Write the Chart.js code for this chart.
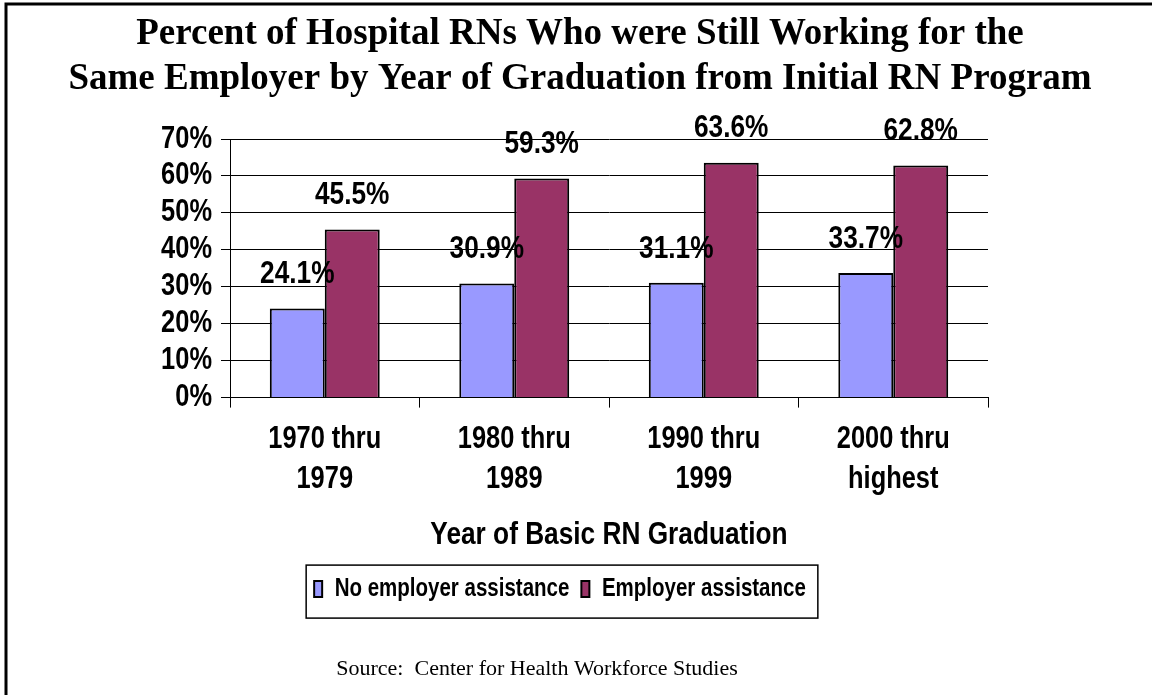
<!DOCTYPE html>
<html>
<head>
<meta charset="utf-8">
<script src="https://cdn.jsdelivr.net/npm/chart.js@4/dist/chart.umd.min.js"></script>
<style>
  html, body { margin: 0; padding: 0; background: #fff; }
  #wrap { width: 1152px; height: 695px; }
</style>
</head>
<body>
<div id="wrap"><canvas id="myChart" width="1152" height="695"></canvas></div>
<script>
const categories = [["1970 thru", "1979"], ["1980 thru", "1989"], ["1990 thru", "1999"], ["2000 thru", "highest"]];
const noAssist = [24.1, 30.9, 31.1, 33.7];
const withAssist = [45.5, 59.3, 63.6, 62.8];
const seriesNames = ["No employer assistance", "Employer assistance"];
const yTicks = [0, 10, 20, 30, 40, 50, 60, 70];
const sourceText = "Source:  Center for Health Workforce Studies";

const SANS = "'Liberation Sans', Arial, sans-serif";
const SERIF = "'Liberation Serif', 'Times New Roman', serif";
const LEGEND_SIZE = 25;

const ctx = document.getElementById("myChart");

/* the original uses a narrow sans (Arial Narrow look). no narrow font here,
   so squeeze Liberation Sans sideways when drawing and measuring */
const SQUEEZE = 0.82;
const c2d = ctx.getContext("2d");
const rawFill = c2d.fillText.bind(c2d);
const rawMeasure = c2d.measureText.bind(c2d);
const isSans = () => c2d.font.indexOf("Liberation Sans") >= 0;
c2d.fillText = function (t, x, y, maxW) {
  if (!isSans()) return maxW === undefined ? rawFill(t, x, y) : rawFill(t, x, y, maxW);
  c2d.save();
  c2d.translate(x, y);
  c2d.scale(SQUEEZE, 1);
  rawFill(t, 0, 0);
  c2d.restore();
};
c2d.measureText = function (t) {
  const m = rawMeasure(t);
  if (!isSans()) return m;
  return {
    width: m.width * SQUEEZE,
    actualBoundingBoxAscent: m.actualBoundingBoxAscent,
    actualBoundingBoxDescent: m.actualBoundingBoxDescent,
    actualBoundingBoxLeft: m.actualBoundingBoxLeft * SQUEEZE,
    actualBoundingBoxRight: m.actualBoundingBoxRight * SQUEEZE
  };
};

/* page border, only top + left show in the original */
const frame = {
  id: "frame",
  beforeDraw(chart) {
    const c = chart.ctx;
    c.save();
    c.fillStyle = "#fff";
    c.fillRect(0, 0, chart.width, chart.height);
    c.strokeStyle = "#000";
    c.lineWidth = 3;
    c.beginPath();
    c.moveTo(6, 695);
    c.lineTo(6, 4);
    c.lineTo(1152, 4);
    c.stroke();
    c.restore();
  }
};

/* move the full width boxes to where the original has them */
const nudge = {
  id: "nudge",
  afterLayout(chart) {
    const move = (box, cx, half) => {
      if (!box) return;
      if (half === undefined) half = (box.right - box.left) / 2;
      box.left = cx - half;
      box.right = cx + half;
    };
    move(chart.titleBlock, 580, 570);
    move(chart.legend, 560);
    move(chart.boxes.find(b => b.options && b.options.text === sourceText), 537, 400);
  },
  afterDraw(chart) {
    // box around the legend
    const lg = chart.legend;
    const pad = lg.options.labels.padding;
    const half = (lg.lineWidths[0] - pad) / 2;
    const cx = (lg.left + lg.right) / 2;
    const cy = lg.top + pad + LEGEND_SIZE / 2;
    const c = chart.ctx;
    c.save();
    c.strokeStyle = "#000";
    c.lineWidth = 1.5;
    c.strokeRect(cx - half - 8, cy - 24, half * 2 + 20, 53);
    c.restore();
  }
};

/* value labels above the bars */
const valueLabels = {
  id: "valueLabels",
  afterDatasetsDraw(chart) {
    const c = chart.ctx;
    c.save();
    c.font = "bold 32px " + SANS;
    c.fillStyle = "#000";
    c.textAlign = "center";
    c.textBaseline = "middle";
    chart.data.datasets.forEach((ds, i) => {
      chart.getDatasetMeta(i).data.forEach((bar, j) => {
        c.fillText(ds.data[j].toFixed(1) + "%", bar.x, bar.y - 34);
      });
    });
    c.restore();
  }
};

const chart = new Chart(ctx, {
  type: "bar",
  data: {
    labels: categories,
    datasets: [
      {
        label: seriesNames[0],
        data: noAssist,
        backgroundColor: "#9999FF",
        borderColor: "#000",
        borderWidth: 2,
        categoryPercentage: 0.58,
        barPercentage: 1
      },
      {
        label: seriesNames[1],
        data: withAssist,
        backgroundColor: "#993366",
        borderColor: "#000",
        borderWidth: 2,
        categoryPercentage: 0.58,
        barPercentage: 1
      }
    ]
  },
  options: {
    responsive: false,
    animation: false,
    layout: { padding: { left: 132, right: 164, top: 0, bottom: 0 } },
    plugins: {
      title: {
        display: true,
        text: ["Percent of Hospital RNs Who were Still Working for the", "Same Employer by Year of Graduation from Initial RN Program"],
        color: "#000",
        font: { family: SERIF, size: 37, weight: "bold", lineHeight: 45 / 37 },
        padding: { top: 12, bottom: 37 }
      },
      subtitle: {
        display: true,
        position: "bottom",
        text: sourceText,
        color: "#000",
        font: { family: SERIF, size: 22, weight: "normal", lineHeight: 1.2 },
        padding: { top: 44, bottom: 13 }
      },
      legend: {
        position: "bottom",
        labels: {
          color: "#000",
          font: { family: SANS, size: LEGEND_SIZE, weight: "bold" },
          boxWidth: 8,
          boxHeight: 16,
          padding: 12
        }
      },
      tooltip: { enabled: false }
    },
    scales: {
      x: {
        grid: { display: true, drawOnChartArea: false, drawTicks: true, tickLength: 10, color: "#000", offset: true },
        border: { display: true, color: "#000", width: 1 },
        ticks: {
          color: "#000",
          padding: 12,
          maxRotation: 0,
          autoSkip: false,
          font: { family: SANS, size: 31, weight: "bold", lineHeight: 40 / 31 }
        },
        title: {
          display: true,
          text: "Year of Basic RN Graduation",
          color: "#000",
          font: { family: SANS, size: 32, weight: "bold", lineHeight: 1.2 },
          padding: { top: 4, bottom: 10.6 }
        }
      },
      y: {
        min: 0,
        max: 70,
        afterFit(scale) { scale.width = 98; },
        afterBuildTicks(scale) { scale.ticks = yTicks.map(v => ({ value: v })); },
        grid: { color: "#000", lineWidth: 1, tickLength: 9 },
        border: { display: true, color: "#000", width: 1 },
        ticks: {
          color: "#000",
          padding: 9,
          autoSkip: false,
          font: { family: SANS, size: 31, weight: "bold" },
          callback: v => v + "%"
        }
      }
    }
  },
  plugins: [frame, nudge, valueLabels]
});
</script>
</body>
</html>
